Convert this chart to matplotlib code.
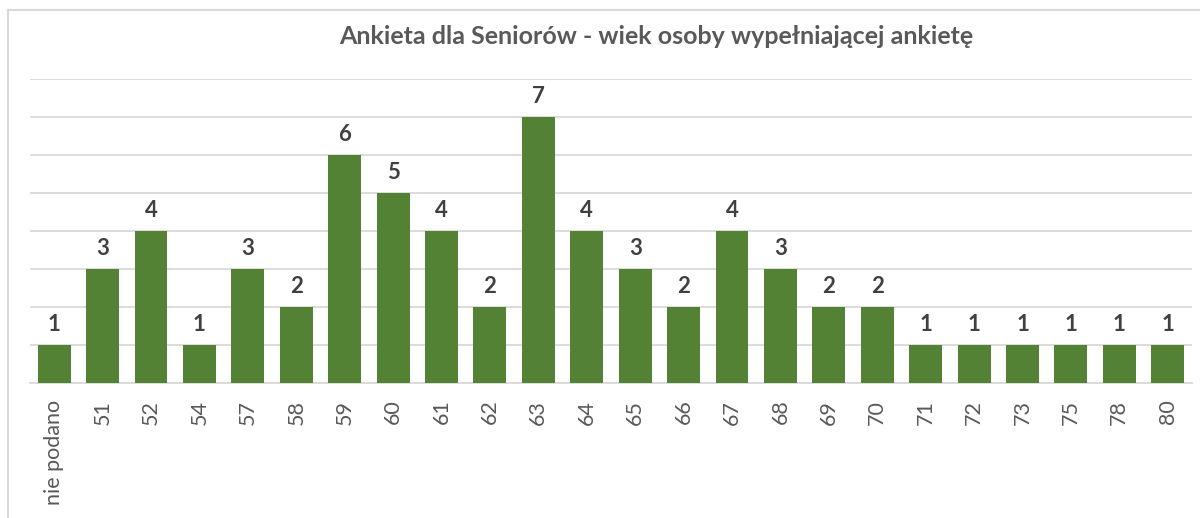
import matplotlib.pyplot as plt
from matplotlib.lines import Line2D

kategorie = ['nie podano', '51', '52', '54', '57', '58', '59', '60', '61', '62', '63', '64',
             '65', '66', '67', '68', '69', '70', '71', '72', '73', '75', '78', '80']
liczba = [1, 3, 4, 1, 3, 2, 6, 5, 4, 2, 7, 4, 3, 2, 4, 3, 2, 2, 1, 1, 1, 1, 1, 1]

plt.rcParams['font.family'] = ['Lato', 'DejaVu Sans']

fig = plt.figure(figsize=(12, 5.18), dpi=100)
ax = fig.add_axes([0.025, 0.2606, 0.9683, 0.5869])

x = range(len(kategorie))
bars = ax.bar(x, liczba, width=0.68, color='#548235', zorder=3)
for b, v in zip(bars, liczba):
    ax.text(b.get_x() + b.get_width() / 2, v + 0.37, str(v), ha='center', va='baseline',
            fontsize=16, fontweight='bold', color='#404040')

ax.set_xlim(-0.5, len(kategorie) - 0.5)
ax.set_ylim(0, 8)
ax.set_yticks(range(0, 9))
ax.yaxis.grid(True, color='#d9d9d9', linewidth=1.3, zorder=0)
ax.tick_params(axis='y', left=False, labelleft=False)
ax.tick_params(axis='x', length=0, pad=12, labelsize=15.5, labelcolor='#595959')
ax.set_xticks(list(x))
ax.set_xticklabels(kategorie, rotation=90, va='top')
for s in ['top', 'right', 'left']:
    ax.spines[s].set_visible(False)
ax.spines['bottom'].set_color('#d9d9d9')
ax.spines['bottom'].set_linewidth(1.3)

fig.text(0.547, 0.93, 'Ankieta dla Seniorów - wiek osoby wypełniającej ankietę',
         ha='center', va='center', fontsize=18, fontweight='bold', color='#595959')

# ramka wykresu
fig.add_artist(Line2D([8 / 1200, 8 / 1200], [0, 1 - 10 / 518], color='#d9d9d9', lw=1.5))
fig.add_artist(Line2D([8 / 1200, 1], [1 - 10 / 518, 1 - 10 / 518], color='#d9d9d9', lw=1.5))

fig.savefig('out.png', dpi=100)
